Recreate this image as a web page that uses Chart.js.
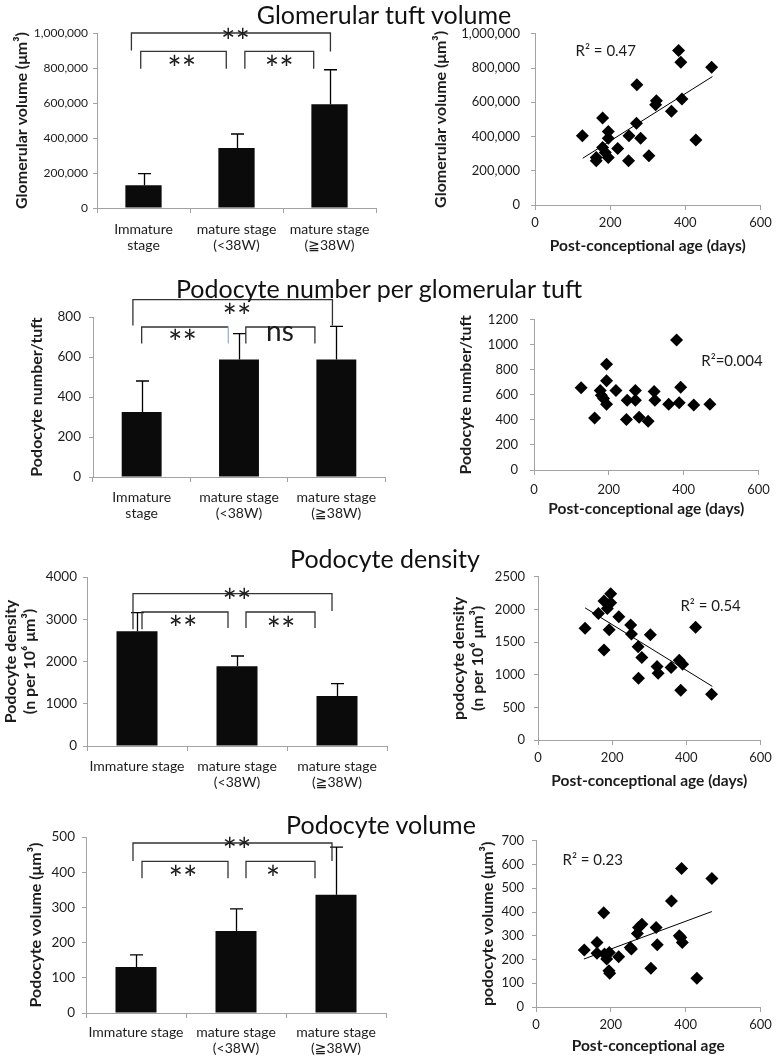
<!DOCTYPE html>
<html><head><meta charset="utf-8">
<script src="https://cdn.jsdelivr.net/npm/chart.js@4.4.1/dist/chart.umd.min.js"></script>
<style>
html,body{margin:0;padding:0;background:#fff;}
body{width:777px;height:1059px;position:relative;overflow:hidden;font-family:Lato,"DejaVu Sans",sans-serif;}
canvas{position:absolute;}
.title{position:absolute;z-index:10;font-size:25px;color:#111;white-space:nowrap;transform:translate(-50%,-50%);line-height:1;}
</style></head><body>
<div class="title" style="left:384px;top:14px">Glomerular tuft volume</div>
<div class="title" style="left:379px;top:288px">Podocyte number per glomerular tuft</div>
<div class="title" style="left:385px;top:558px">Podocyte density</div>
<div class="title" style="left:381px;top:824px">Podocyte volume</div>
<canvas id="b1"></canvas><canvas id="s1"></canvas>
<canvas id="b2"></canvas><canvas id="s2"></canvas>
<canvas id="b3"></canvas><canvas id="s3"></canvas>
<canvas id="b4"></canvas><canvas id="s4"></canvas>
<script>
// ---------- DATA ----------
const categoriesTwoLine = [["Immature", "stage"], ["mature stage", "(<38W)"], ["mature stage", "(≧38W)"]];
const categoriesOneLine = [["Immature stage"], ["mature stage", "(<38W)"], ["mature stage", "(≧38W)"]];

const glomMean = [130000, 343000, 593000];
const glomSD   = [67000, 80000, 197000];
const numMean  = [325, 587, 588];
const numSD    = [155, 130, 165];
const densMean = [2714, 1886, 1183];
const densSD   = [442, 244, 292];
const volMean  = [131, 233, 336];
const volSD    = [34, 63, 135];

const glomAge = [126,180,195,195,180,187,163,163,195,220,250,249,270,271,281,303,321,323,363,382,388,391,428,470];
const glomVol = [404000,508000,430000,390000,336000,307000,277000,258000,277000,330000,404000,258000,477000,703000,390000,287000,586000,609000,547000,902000,834000,619000,379000,805000];
const numAge  = [126,162,177,180,186,194,194,194,219,249,247,271,271,281,305,321,323,360,381,388,392,427,470];
const numVal  = [657,416,636,597,571,844,714,525,636,558,403,636,558,421,390,628,558,525,1039,538,662,519,525];
const densAge = [127,163,178,187,196,196,192,178,218,250,252,270,271,280,303,321,324,359,381,390,385,425,468];
const densVal = [1713,1939,2129,2014,2239,2104,1688,1378,1889,1763,1623,1428,947,1262,1613,1127,1022,1112,1222,1162,761,1728,701];
const volAge  = [129,163,163,181,183,189,196,195,197,221,252,255,271,274,283,307,321,324,362,389,383,387,391,430,470];
const volVal  = [240,272,226,397,223,202,230,153,142,212,251,244,310,335,349,163,335,262,446,583,300,293,272,121,541];

const glomTrendX = [127, 472], glomTrendY = [273000, 750000];
const densTrendX = [127, 470], densTrendY = [2024, 822];
const volTrendX  = [128, 470], volTrendY  = [202, 402];

const r2Labels = ["R² = 0.47", "R²=0.004", "R² = 0.54", "R² = 0.23"];

// ---------- STYLE ----------
const FONT = 'Lato, "DejaVu Sans", sans-serif';
const INK = '#1c1c1c';
const AXIS = '#a3a3a3';
Chart.defaults.font.family = FONT;
Chart.defaults.color = INK;

const withCommas = v => Number(v).toLocaleString('en-US');
const plain = v => String(v);

function pts(xs, ys) { return xs.map((x, i) => ({x: x, y: ys[i]})); }

function annotPlugin(cfg) {
  return {
    id: 'annot',
    afterDatasetsDraw(chart) {
      const ctx = chart.ctx, xs = chart.scales.x, ys = chart.scales.y;
      ctx.save();
      ctx.lineCap = 'butt';
      if (cfg.errors) {
        ctx.strokeStyle = '#000'; ctx.lineWidth = 1.3;
        cfg.errors.mean.forEach((m, i) => {
          const px = Math.round(xs.getPixelForValue(i)) + 0.5;
          const y0 = ys.getPixelForValue(m), y1 = ys.getPixelForValue(m + cfg.errors.sd[i]);
          ctx.beginPath(); ctx.moveTo(px, y0); ctx.lineTo(px, y1);
          ctx.moveTo(px - 6.5, y1); ctx.lineTo(px + 6.5, y1); ctx.stroke();
        });
      }
      (cfg.brackets || []).forEach(b => {
        const x1 = xs.getPixelForValue(b.x1), x2 = xs.getPixelForValue(b.x2);
        const yt = ys.getPixelForValue(b.top), yl = ys.getPixelForValue(b.left), yr = ys.getPixelForValue(b.right);
        ctx.strokeStyle = '#333'; ctx.lineWidth = 1.3;
        ctx.beginPath(); ctx.moveTo(x1, yl); ctx.lineTo(x1, yt); ctx.lineTo(x2, yt);
        if (!b.rightColor) ctx.lineTo(x2, yr);
        ctx.stroke();
        if (b.rightColor) {
          ctx.strokeStyle = b.rightColor;
          ctx.beginPath(); ctx.moveTo(x2, yt); ctx.lineTo(x2, yr); ctx.stroke();
        }
      });
      (cfg.labels || []).forEach(t => {
        ctx.font = t.size + 'px ' + FONT;
        ctx.fillStyle = INK;
        ctx.textAlign = t.align || 'center';
        ctx.textBaseline = 'alphabetic';
        const m = ctx.measureText(t.text);
        const px = xs.getPixelForValue(t.x), py = ys.getPixelForValue(t.y);
        ctx.fillText(t.text, px, py + (m.actualBoundingBoxAscent - m.actualBoundingBoxDescent) / 2);
      });
      ctx.restore();
    }
  };
}

function setupCanvas(id, box) {
  const c = document.getElementById(id);
  c.width = box.w; c.height = box.h;
  c.style.left = box.x + 'px'; c.style.top = box.y + 'px';
  c.style.width = box.w + 'px'; c.style.height = box.h + 'px';
  return c;
}

function yAxis(box, area, o) {
  return {
    type: 'linear', min: 0, max: o.max,
    ticks: {stepSize: o.step, color: INK, font: {family: FONT, size: o.tickSize || 13}, padding: o.tickPad,
            callback: o.fmt || plain},
    grid: {display: true, drawOnChartArea: false, drawTicks: true, tickLength: 4, color: AXIS},
    border: {display: true, color: AXIS, width: 1},
    title: {display: true, text: o.title, color: INK,
            font: {family: FONT, size: 16, weight: 'bold', lineHeight: 1.15},
            padding: {top: o.titlePad, bottom: 0}},
    afterFit: s => { s.width = area.l - box.x; }
  };
}

function layoutPad(box, area) {
  return {left: 0, top: area.t - box.y, right: box.x + box.w - area.r, bottom: 0};
}

function barChart(id, box, area, o) {
  const c = setupCanvas(id, box);
  return new Chart(c, {
    type: 'bar',
    data: {labels: o.labels, datasets: [{data: o.mean, backgroundColor: '#0b0b0b', borderWidth: 0,
           barPercentage: o.barPct, categoryPercentage: 1}]},
    options: {
      responsive: false, animation: false, devicePixelRatio: 1,
      layout: {padding: layoutPad(box, area)},
      plugins: {legend: {display: false}, tooltip: {enabled: false}},
      scales: {
        x: {type: 'category', offset: true,
            ticks: {color: INK, font: {family: FONT, size: 14, lineHeight: 1.2}, padding: o.xTickPad, maxRotation: 0, autoSkip: false},
            grid: {display: true, offset: true, drawOnChartArea: false, drawTicks: true, tickLength: 5, color: AXIS},
            border: {display: true, color: AXIS, width: 1},
            afterFit: s => { s.height = box.y + box.h - area.b; }},
        y: yAxis(box, area, o.y)
      }
    },
    plugins: [annotPlugin({errors: {mean: o.mean, sd: o.sd}, brackets: o.brackets, labels: o.annLabels})]
  });
}

function scatterChart(id, box, area, o) {
  const c = setupCanvas(id, box);
  const ds = [{data: pts(o.x, o.y), backgroundColor: '#000', borderWidth: 0, pointStyle: 'rectRot', pointRadius: 6.5, pointHoverRadius: 6.5}];
  if (o.trendX) ds.push({data: pts(o.trendX, o.trendY), showLine: true, borderColor: '#000', borderWidth: 1, pointRadius: 0, fill: false});
  return new Chart(c, {
    type: 'scatter',
    data: {datasets: ds},
    options: {
      responsive: false, animation: false, devicePixelRatio: 1,
      layout: {padding: layoutPad(box, area)},
      plugins: {legend: {display: false}, tooltip: {enabled: false}},
      scales: {
        x: {type: 'linear', min: 0, max: 600,
            ticks: {stepSize: 200, color: INK, font: {family: FONT, size: 13, lineHeight: 1.2}, padding: o.xTickPad, maxRotation: 0},
            grid: {display: true, drawOnChartArea: false, drawTicks: true, tickLength: 5, color: AXIS},
            border: {display: true, color: AXIS, width: 1},
            title: {display: true, text: o.xTitle, color: INK, font: {family: FONT, size: 15.5, weight: 'bold', lineHeight: 1.2}, padding: {top: 0, bottom: 0}},
            afterFit: s => { s.height = box.y + box.h - area.b; }},
        y: yAxis(box, area, o.yAx)
      }
    },
    plugins: [annotPlugin({labels: [{x: o.r2x, y: o.r2y, text: o.r2, size: 15, align: 'left'}]})]
  });
}

// ---------- CHARTS ----------
const STAR = 34;

barChart('b1', {x: 0, y: 3, w: 390, h: 257}, {l: 97, t: 33, r: 376, b: 208}, {
  labels: categoriesTwoLine, mean: glomMean, sd: glomSD, barPct: 0.39, xTickPad: 7.6,
  y: {max: 1000000, step: 200000, tickSize: 12, tickPad: 5, fmt: withCommas, title: 'Glomerular volume (μm³)', titlePad: 12.5},
  brackets: [
    {x1: -0.13, x2: 2.01, top: 1000000, left: 900000, right: 895000},
    {x1: -0.03, x2: 0.89, top: 895000, left: 796000, right: 796000},
    {x1: 1.09, x2: 1.83, top: 895000, left: 796000, right: 796000}],
  annLabels: [
    {x: 0.99, y: 1000000, text: '**', size: STAR},
    {x: 0.41, y: 848000, text: '**', size: STAR},
    {x: 1.46, y: 848000, text: '**', size: STAR}]
});

barChart('b2', {x: 0, y: 287, w: 390, h: 238}, {l: 93, t: 317, r: 385, b: 477}, {
  labels: categoriesTwoLine, mean: numMean, sd: numSD, barPct: 0.41, xTickPad: 6.6,
  y: {max: 800, step: 200, tickSize: 13.5, tickPad: 8, title: 'Podocyte number/tuft', titlePad: 28},
  brackets: [
    {x1: -0.09, x2: 1.96, top: 887, left: 758, right: 758},
    {x1: 0.00, x2: 0.89, top: 750, left: 667, right: 667, rightColor: '#8fb6d8'},
    {x1: 1.07, x2: 1.78, top: 750, left: 667, right: 667}],
  annLabels: [
    {x: 0.98, y: 845, text: '**', size: STAR},
    {x: 0.42, y: 715, text: '**', size: STAR},
    {x: 1.42, y: 720, text: 'ns', size: 28}]
});

barChart('b3', {x: 0, y: 547, w: 390, h: 250}, {l: 87, t: 577, r: 387, b: 746}, {
  labels: categoriesOneLine, mean: densMean, sd: densSD, barPct: 0.41, xTickPad: 6.6,
  y: {max: 4000, step: 1000, tickSize: 13.5, tickPad: 6, title: ['Podocyte density', '(n per 10⁶ μm³)'], titlePad: 2},
  brackets: [
    {x1: -0.04, x2: 1.95, top: 3606, left: 2761, right: 3195},
    {x1: 0.05, x2: 0.91, top: 3172, left: 2761, right: 2793},
    {x1: 1.09, x2: 1.78, top: 3172, left: 2793, right: 2793}],
  annLabels: [
    {x: 1.0, y: 3629, text: '**', size: STAR},
    {x: 0.46, y: 2990, text: '**', size: STAR},
    {x: 1.44, y: 2950, text: '**', size: STAR}]
});

barChart('b4', {x: 0, y: 807, w: 390, h: 252}, {l: 86, t: 837, r: 386, b: 1013}, {
  labels: categoriesOneLine, mean: volMean, sd: volSD, barPct: 0.41, xTickPad: 5.6,
  y: {max: 500, step: 100, tickSize: 13.5, tickPad: 7, title: 'Podocyte volume (μm³)', titlePad: 27},
  brackets: [
    {x1: -0.03, x2: 1.96, top: 483, left: 432, right: 432},
    {x1: 0.06, x2: 0.92, top: 431, left: 383, right: 383},
    {x1: 1.10, x2: 1.79, top: 431, left: 383, right: 383}],
  annLabels: [
    {x: 1.01, y: 485, text: '**', size: STAR},
    {x: 0.47, y: 407, text: '**', size: STAR},
    {x: 1.37, y: 407, text: '*', size: STAR}]
});

scatterChart('s1', {x: 390, y: 15, w: 387, h: 240}, {l: 535, t: 33, r: 763, b: 205}, {
  x: glomAge, y: glomVol, trendX: glomTrendX, trendY: glomTrendY, xTickPad: 5.2,
  xTitle: 'Post-conceptional age (days)',
  yAx: {max: 1000000, step: 200000, tickSize: 13, tickPad: 11, fmt: withCommas, title: 'Glomerular volume (μm³)', titlePad: 42},
  r2: r2Labels[0], r2x: 108, r2y: 907000
});

scatterChart('s2', {x: 390, y: 300, w: 387, h: 218}, {l: 534, t: 316, r: 765, b: 470}, {
  x: numAge, y: numVal, xTickPad: 7.2,
  xTitle: 'Post-conceptional age (days)',
  yAx: {max: 1200, step: 200, tickSize: 13, tickPad: 12, title: 'Podocyte number/tuft', titlePad: 67},
  r2: r2Labels[1], r2x: 447, r2y: 880
});

scatterChart('s3', {x: 390, y: 560, w: 387, h: 230}, {l: 538, t: 573, r: 763, b: 740}, {
  x: densAge, y: densVal, trendX: densTrendX, trendY: densTrendY, xTickPad: 5.2,
  xTitle: 'Post-conceptional age (days)',
  yAx: {max: 2500, step: 500, tickSize: 13, tickPad: 9, title: ['podocyte density', '(n per 10⁶ μm³)'], titlePad: 60},
  r2: r2Labels[2], r2x: 384, r2y: 2081
});

scatterChart('s4', {x: 390, y: 825, w: 387, h: 230}, {l: 536, t: 839, r: 763, b: 1007}, {
  x: volAge, y: volVal, trendX: volTrendX, trendY: volTrendY, xTickPad: 5.2,
  xTitle: 'Post-conceptional age',
  yAx: {max: 700, step: 100, tickSize: 13, tickPad: 8, title: 'podocyte volume (μm³)', titlePad: 89},
  r2: r2Labels[3], r2x: 71, r2y: 625
});
</script>
</body></html>
